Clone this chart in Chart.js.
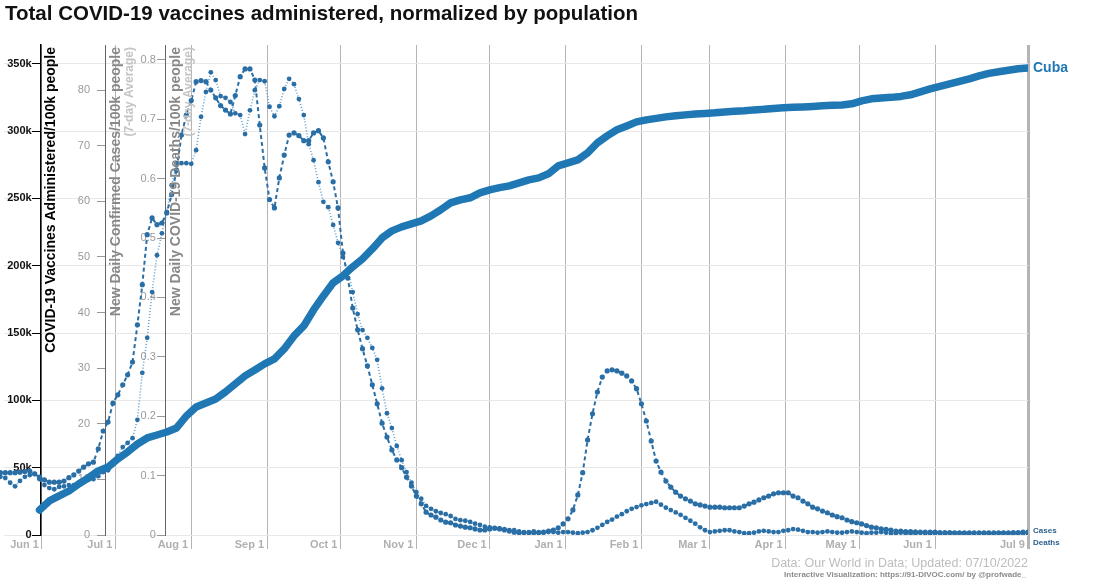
<!DOCTYPE html>
<html lang="en">
<head>
  <meta charset="UTF-8">
  <title>Total COVID-19 vaccines administered, normalized by population</title>
  <script src="https://cdn.jsdelivr.net/npm/chart.js"></script>
  <style>
    body {
      margin: 0;
      background: #fff;
      font-family: "Liberation Sans", Arial, sans-serif;
    }
    .chart-box {
      width: 1108px;
      height: 580px;
    }
  </style>
</head>
<body>

  <div class="chart-box">
    <canvas id="vaxChart"></canvas>
  </div>

  <script>
    // days counted from Jun 1 2021
    const tickDays = [0, 30, 61, 92, 122, 153, 183, 214, 245, 273, 304, 334, 365, 403];
    const tickLabels = ['Jun 1', 'Jul 1', 'Aug 1', 'Sep 1', 'Oct 1', 'Nov 1', 'Dec 1', 'Jan 1', 'Feb 1', 'Mar 1', 'Apr 1', 'May 1', 'Jun 1', 'Jul 9'];
    const vaxTicks = [0, 50000, 100000, 150000, 200000, 250000, 300000, 350000];
    const casesTicks = [0, 10, 20, 30, 40, 50, 60, 70, 80];
    const deathsTicks = [0, 0.1, 0.2, 0.3, 0.4, 0.5, 0.6, 0.7, 0.8];

    // vaccines administered per 100k (thousands), every 4 days from May 31 2021
    const vaxStart = -1;
    const vaxStep = 4;
    const vaccines = [
      18.6, 25.3, 29, 32.7, 37.9, 42.4, 47.6, 50.5, 56.5, 61.7,
      67.6, 72.1, 74.3, 76.5, 79.5, 88.4, 95.1, 98.1, 101, 106.3,
      112.2, 118.2, 122.6, 127.1, 130.8, 138.2, 147.9, 155.3, 167.2, 177.6,
      187.3, 192.5, 199.2, 205.1, 212.5, 220.7, 225.9, 228.9, 231.1, 233.4,
      237.1, 241.6, 246.7, 249, 250.5, 254.2, 256.4, 258, 259.4, 261.6,
      263.8, 265.3, 268.3, 274.2, 276.4, 278.7, 283.9, 291.3, 296.5, 301,
      303.9, 306.9, 308.4, 309.5, 310.6, 311.4, 312.1, 312.8, 313.2, 313.6,
      314.3, 314.7, 315.1, 315.8, 316.2, 316.9, 317.3, 317.7, 318, 318.4,
      318.8, 319.2, 319.5, 320.3, 322.5, 324, 324.7, 325.1, 325.8, 327,
      329.2, 331.4, 333.3, 335.1, 337, 338.9, 341.1, 342.9, 344.1, 345.2,
      346.3, 347
    ];

    // daily cases and deaths per 100k (7-day avg), every 2 days from May 15 2021
    const sevenDayStart = -17;
    const sevenDayStep = 2;
    const cases = [
      11.2, 11.2, 11.2, 11.2, 11.3, 11.4, 11.5, 11.0, 10.4, 9.9,
      9.5, 9.5, 9.5, 9.7, 10.3, 10.8, 11.5, 12.2, 12.8, 13.1,
      15.5, 18.7, 20.3, 23.7, 25.2, 27, 28.8, 31.1, 37.8, 45,
      54, 57, 55.8, 56.1, 57.9, 61.2, 65.6, 71.9, 75.5, 78.1,
      81.5, 81.7, 81.5, 80, 78.6, 77.2, 76.4, 75.7, 79, 82.4,
      83.8, 83.8, 81.8, 73.7, 66, 60.3, 58.8, 64.2, 68.3, 71.9,
      72.3, 71.8, 70.9, 70.9, 72.3, 72.7, 71.4, 67.1, 63.5, 58.8,
      50.7, 46.2, 40.8, 36.9, 33.5, 30.4, 27, 23.6, 20.1, 17.6,
      15.3, 13.5, 12.1, 10.4, 8.8, 7, 5.6, 4.1, 3.6, 3.2,
      2.7, 2.3, 2.2, 1.8, 1.6, 1.4, 1.3, 1.1, 0.9, 0.9,
      1.1, 1.2, 1.1, 0.9, 0.7, 0.5, 0.4, 0.4, 0.4, 0.4,
      0.4, 0.5, 0.7, 0.9, 1.3, 2, 2.9, 4.5, 7.2, 11.2,
      17.1, 21.8, 25.7, 28.4, 29.5, 29.7, 29.5, 29.1, 28.6, 27.7,
      26.3, 23.6, 20.5, 16.9, 13.3, 11.3, 9.7, 8.6, 7.7, 7,
      6.5, 6.1, 5.6, 5.4, 5.2, 5, 5, 5, 4.9, 4.9,
      4.9, 4.9, 5.2, 5.6, 5.9, 6.3, 6.7, 7, 7.4, 7.6,
      7.6, 7.6, 7, 6.7, 6.1, 5.6, 5, 4.7, 4.3, 4,
      3.6, 3.3, 3.1, 2.7, 2.4, 2.2, 2, 1.7, 1.4, 1.3,
      1.1, 1, 0.9, 0.7, 0.7, 0.6, 0.6, 0.55, 0.5, 0.5,
      0.5, 0.5, 0.45, 0.45, 0.45, 0.4, 0.4, 0.4, 0.4, 0.4,
      0.4, 0.4, 0.4, 0.4, 0.4, 0.4, 0.4, 0.45, 0.45, 0.5, 0.5
    ];
    const deaths = [
      .098, .096, .088, .082, .091, .098, .101, .103, .094, .084,
      .079, .077, .081, .082, .084, .084, .086, .089, .093, .094,
      .099, .106, .109, .12, .133, .148, .155, .163, .194, .273,
      .332, .409, .471, .508, .544, .589, .626, .626, .626, .625,
      .648, .704, .746, .779, .766, .739, .736, .729, .71, .707,
      .675, .715, .749, .766, .764, .721, .705, .722, .751, .768,
      .759, .734, .707, .658, .631, .594, .561, .552, .522, .492,
      .468, .446, .409, .372, .345, .332, .315, .295, .247, .205,
      .18, .15, .126, .106, .088, .072, .061, .049, .044, .04,
      .037, .035, .032, .027, .025, .024, .022, .019, .017, .014,
      .013, .012, .011, .01, .008, .008, .006, .005, .005, .006,
      .005, .004, .005, .005, .004, .005, .005, .004, .003, .004,
      .005, .008, .012, .017, .022, .026, .031, .035, .04, .044,
      .047, .05, .052, .054, .056, .051, .046, .042, .038, .034,
      .029, .024, .019, .013, .008, .005, .006, .007, .008, .008,
      .006, .005, .003, .003, .004, .006, .007, .006, .005, .005,
      .007, .008, .01, .009, .007, .005, .005, .004, .005, .006,
      .005, .004, .004, .005, .006, .005, .004, .003, .004, .004,
      .005, .004, .003, .003, .004, .003, .003, .003, .004, .003,
      .003, .003, .003, .002, .003, .003, .003, .002, .003, .003,
      .003, .003, .002, .003, .003, .003, .003, .002, .003, .003, .003
    ];

    const toPoints = (values, start, step, scale) =>
      values.map((v, i) => ({ x: start + i * step, y: v * scale }));

    const blue = '#1f77b4';
    const dotBlue = '#2a6ea6';
    const FONT = '"Liberation Sans", Arial, sans-serif';

    // where the three y axes sit, in x-axis day units
    const vaxAxisAt = -0.45;
    const casesAxisAt = 25.9;
    const deathsAxisAt = 50.3;

    const chartText = {
      id: 'chartText',
      afterDraw(chart) {
        const ctx = chart.ctx;
        const x = chart.scales.x;
        const area = chart.chartArea;
        ctx.save();

        ctx.fillStyle = '#111';
        ctx.font = 'bold 20.5px ' + FONT;
        ctx.textAlign = 'left';
        ctx.textBaseline = 'middle';
        ctx.fillText('Total COVID-19 vaccines administered, normalized by population', 5, 14);

        // axis titles, reading upwards, to the right of each axis line
        const vertical = (text, px, font, color) => {
          ctx.save();
          ctx.translate(px, area.top + 2);
          ctx.rotate(-Math.PI / 2);
          ctx.font = font;
          ctx.fillStyle = color;
          ctx.textAlign = 'right';
          ctx.textBaseline = 'middle';
          ctx.fillText(text, 0, 0);
          ctx.restore();
        };
        vertical('COVID-19 Vaccines Administered/100k people', x.getPixelForValue(vaxAxisAt) + 10, 'bold 14px ' + FONT, '#000');
        vertical('New Daily Confirmed Cases/100k people', x.getPixelForValue(casesAxisAt) + 11, 'bold 14px ' + FONT, '#888');
        vertical('(7-day Average)', x.getPixelForValue(casesAxisAt) + 24, 'bold 12px ' + FONT, '#c4c4c4');
        vertical('New Daily COVID-19 Deaths/100k people', x.getPixelForValue(deathsAxisAt) + 11, 'bold 14px ' + FONT, '#888');
        vertical('(7-day Average)', x.getPixelForValue(deathsAxisAt) + 24, 'bold 12px ' + FONT, '#c4c4c4');

        // end labels
        const last = (i) => {
          const pts = chart.getDatasetMeta(i).data;
          return pts[pts.length - 1];
        };
        ctx.textAlign = 'left';
        ctx.textBaseline = 'middle';
        ctx.fillStyle = blue;
        ctx.font = 'bold 14px ' + FONT;
        ctx.fillText('Cuba', last(0).x + 5, last(0).y);
        ctx.fillStyle = '#2b5f8c';
        ctx.font = 'bold 8px ' + FONT;
        ctx.fillText('Cases', last(1).x + 5, last(1).y - 1);
        ctx.fillText('Deaths', last(2).x + 5, last(2).y + 10);

        // source lines
        ctx.textAlign = 'right';
        ctx.fillStyle = '#bdbdbd';
        ctx.font = '12.5px ' + FONT;
        ctx.fillText('Data: Our World in Data; Updated: 07/10/2022', 1028, 564);
        ctx.fillStyle = '#8c8c8c';
        ctx.font = 'bold 8px ' + FONT;
        ctx.fillText('Interactive Visualization: https://91-DIVOC.com/ by @profwade_', 1026, 575);
        ctx.restore();
      }
    };

    const yTicks = (list) => (scale) => {
      scale.ticks = list.map(v => ({ value: v }));
    };

    const lineClip = { left: 6, top: 2, right: 0, bottom: 0 };

    const vaxChart = new Chart(document.getElementById('vaxChart').getContext('2d'), {
      type: 'line',
      data: {
        datasets: [{
          label: 'Cuba',
          data: toPoints(vaccines, vaxStart, vaxStep, 1000),
          yAxisID: 'yV',
          borderColor: blue,
          backgroundColor: blue,
          borderWidth: 7.5,
          pointRadius: 0,
          borderCapStyle: 'round',
          borderJoinStyle: 'round',
          fill: false,
          clip: lineClip,
        }, {
          label: 'Cases',
          data: toPoints(cases, sevenDayStart, sevenDayStep, 1),
          yAxisID: 'yC',
          borderColor: dotBlue,
          backgroundColor: dotBlue,
          borderWidth: 2,
          borderDash: [4, 3],
          pointRadius: 2.6,
          pointBorderWidth: 0,
          fill: false,
          clip: lineClip,
        }, {
          label: 'Deaths',
          data: toPoints(deaths, sevenDayStart, sevenDayStep, 1),
          yAxisID: 'yD',
          borderColor: '#5c9fd0',
          backgroundColor: dotBlue,
          borderWidth: 1.6,
          borderDash: [1, 2],
          pointRadius: 2.4,
          pointBorderWidth: 0,
          fill: false,
          clip: lineClip,
        }],
      },
      options: {
        responsive: true,
        maintainAspectRatio: false,
        animation: false,
        layout: { padding: { top: 45, right: 80, bottom: 27, left: 0 } },
        plugins: {
          legend: { display: false },
          tooltip: { enabled: false },
        },
        scales: {
          x: {
            type: 'linear',
            min: -15.53,
            max: 403,
            afterBuildTicks: yTicks(tickDays),
            afterFit: (scale) => { scale.height = 18; },
            ticks: {
              autoSkip: false,
              maxRotation: 0,
              align: 'end',
              padding: -11,
              color: '#b0b0b0',
              font: { family: FONT, size: 11, weight: 'bold' },
              callback: (v) => tickLabels[tickDays.indexOf(v)] + ' ',
            },
            grid: {
              color: '#b4b4b4',
              tickColor: '#b4b4b4',
              tickLength: 14,
              lineWidth: (c) => (c.tick && c.tick.value === 403 ? 3 : 1),
            },
            border: { display: false },
          },
          yV: {
            position: { x: vaxAxisAt },
            min: 0,
            max: 364000,
            afterBuildTicks: yTicks(vaxTicks),
            ticks: {
              color: '#111',
              font: { family: FONT, size: 11, weight: 'bold' },
              callback: (v) => (v === 0 ? '0' : v / 1000 + 'k') + '   ',
            },
            grid: { color: '#e8e8e8', tickColor: '#000', tickLength: 8 },
            border: { color: '#000', width: 1.5 },
          },
          yC: {
            position: { x: casesAxisAt },
            min: 0,
            max: 88.1,
            afterBuildTicks: yTicks(casesTicks),
            ticks: {
              color: '#9a9a9a',
              font: { family: FONT, size: 11 },
              callback: (v) => v + '     ',
            },
            grid: { drawOnChartArea: false, tickColor: '#999', tickLength: 8 },
            border: { color: '#666', width: 1 },
          },
          yD: {
            position: { x: deathsAxisAt },
            min: 0,
            max: 0.825,
            afterBuildTicks: yTicks(deathsTicks),
            ticks: {
              color: '#9a9a9a',
              font: { family: FONT, size: 11 },
              callback: (v) => (v === 0 ? '0' : v.toFixed(1)) + '   ',
            },
            grid: { drawOnChartArea: false, tickColor: '#999', tickLength: 8 },
            border: { color: '#666', width: 1 },
          },
        },
      },
      plugins: [chartText],
    });
  </script>
</body>
</html>
